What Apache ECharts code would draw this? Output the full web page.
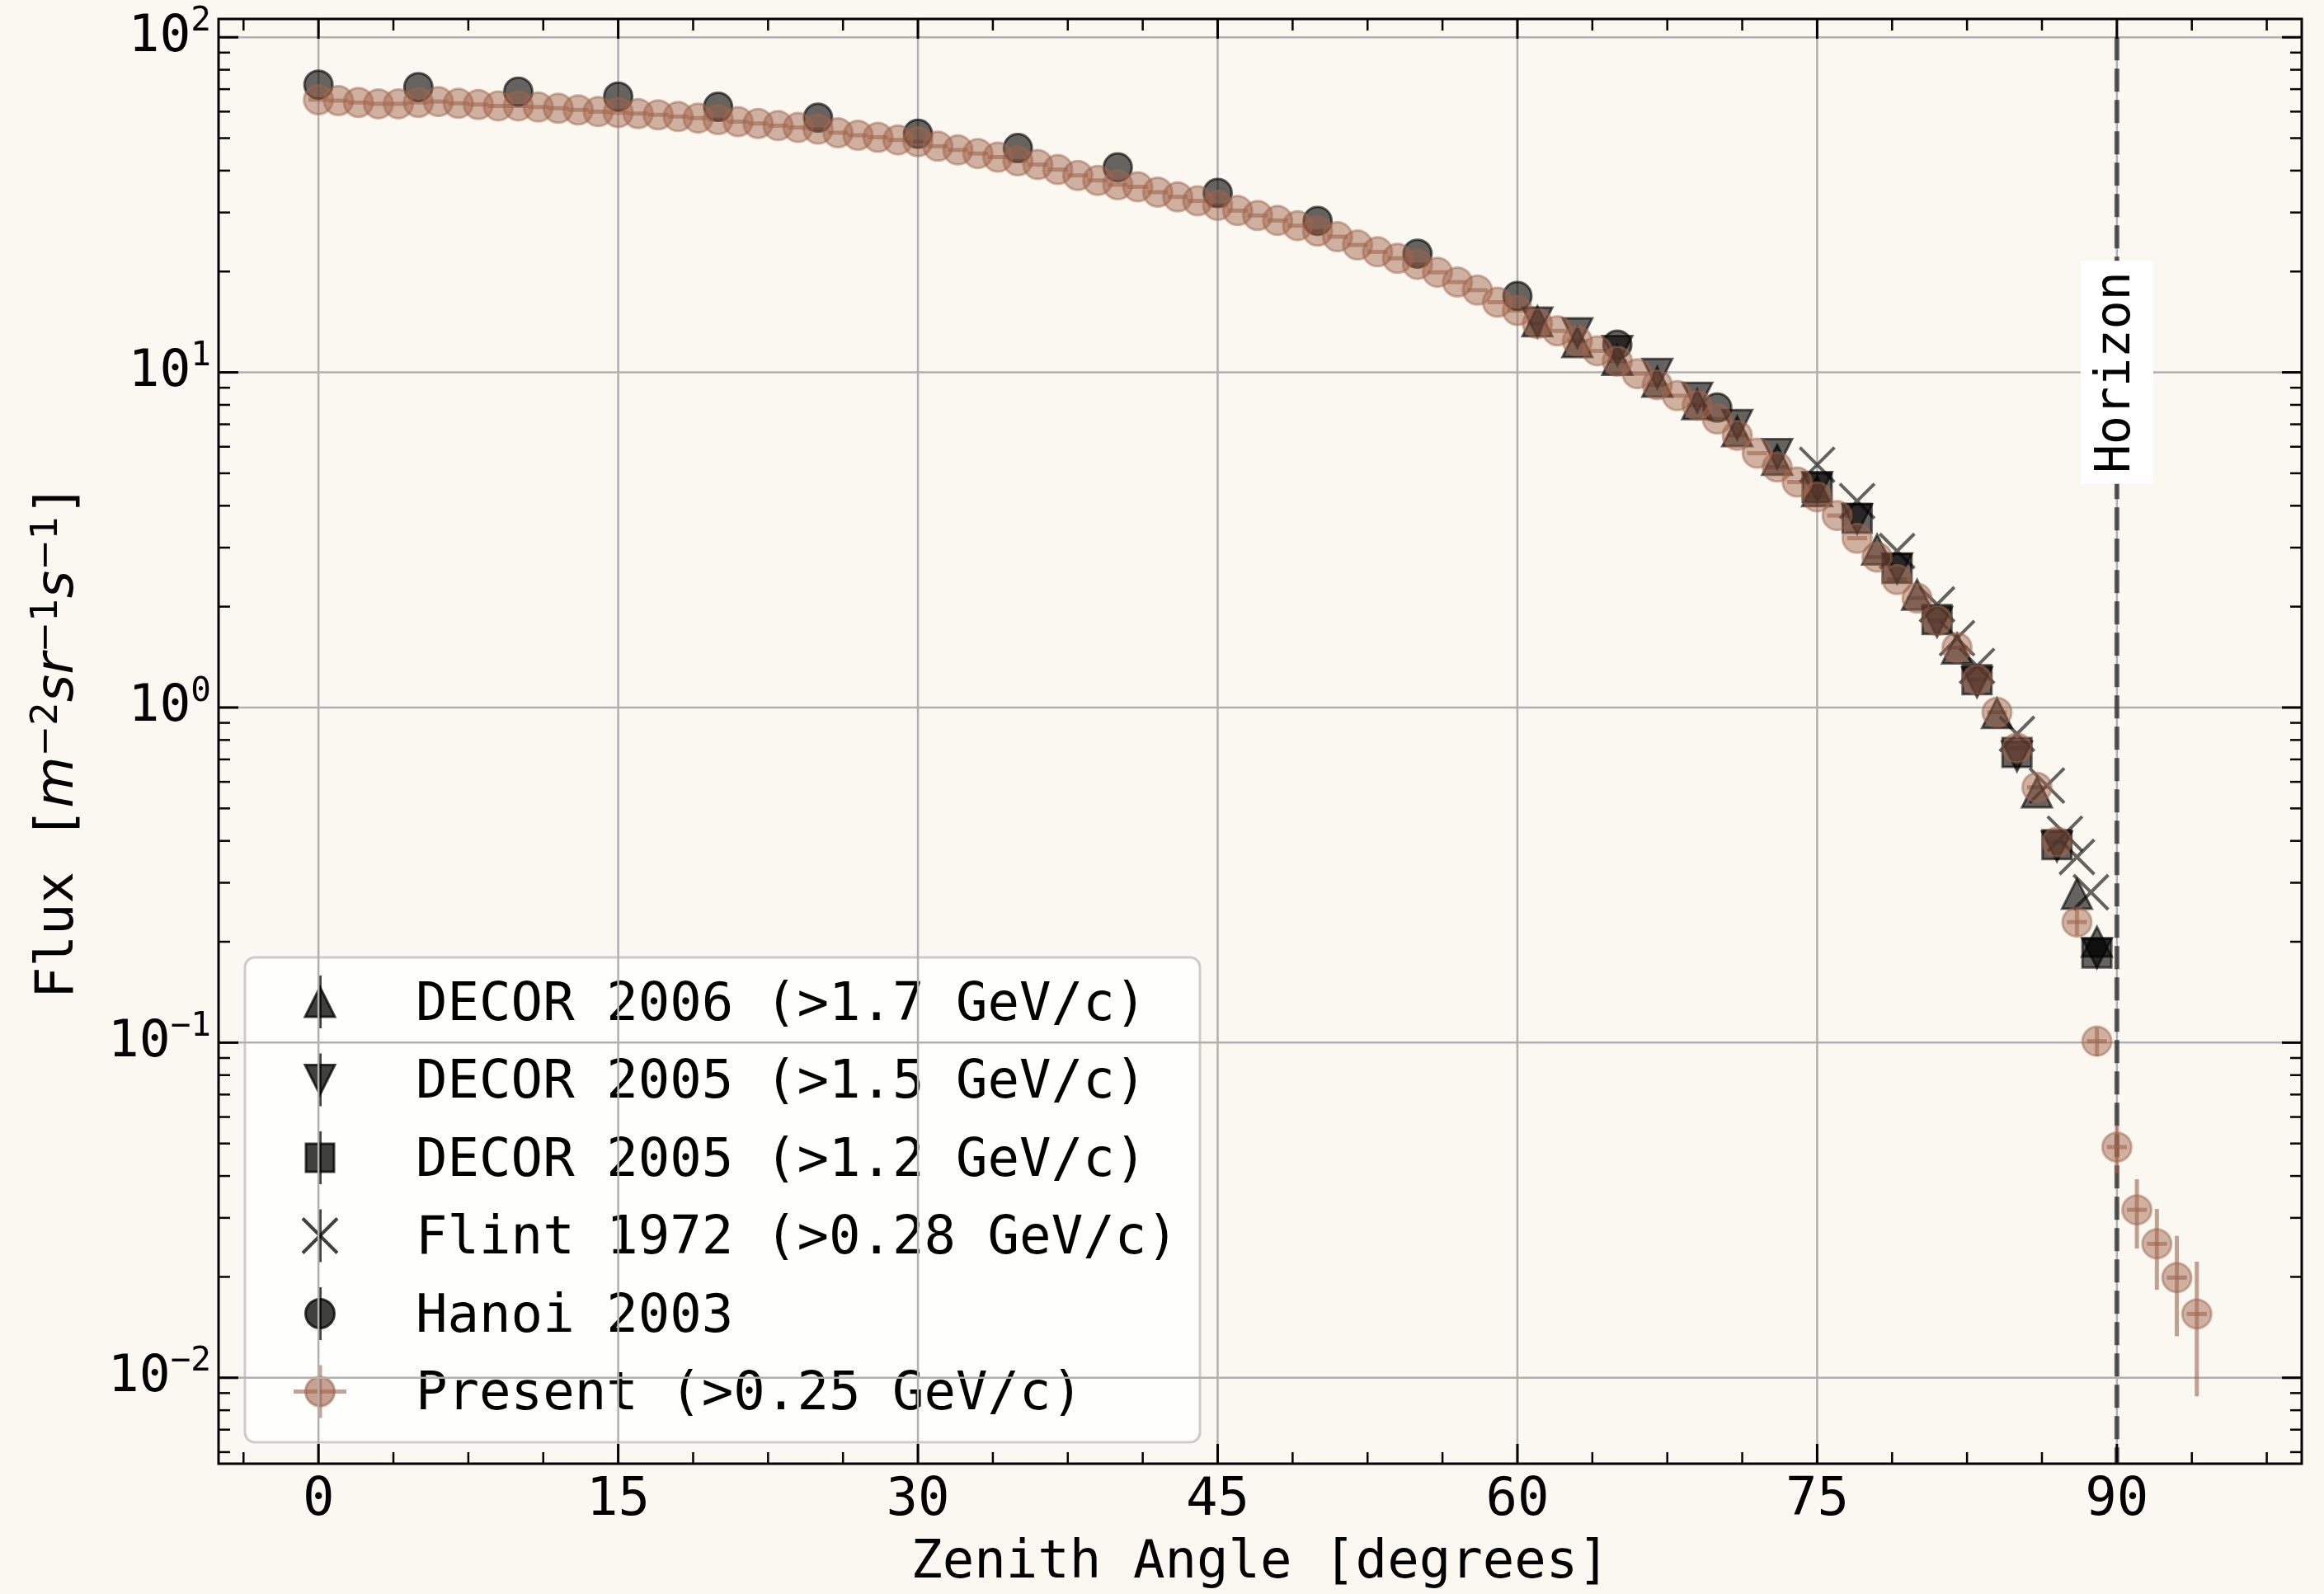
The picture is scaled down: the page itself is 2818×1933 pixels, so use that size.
<!DOCTYPE html>
<html>
<head>
<meta charset="utf-8">
<script src="https://cdn.jsdelivr.net/npm/echarts@6/dist/echarts.min.js"></script>
<style>
html,body{margin:0;padding:0;background:#faf8f1;}
#c{width:2818px;height:1933px;}
</style>
</head>
<body>
<div id="c"></div>
<script>
// ---------------- data ----------------
const presentAngles = [0,1,2,3,4,5,6,7,8,9,10,11,12,13,14,15,16,17,18,19,20,21,22,23,24,25,26,27,28,29,30,31,32,33,34,35,36,37,38,39,40,41,42,43,44,45,46,47,48,49,50,51,52,53,54,55,56,57,58,59,60,61,62,63,64,65,66,67,68,69,70,71,72,73,74,75,76,77,78,79,80,81,82,83,84,85,86,87,88,89,90,91,92,93,94];
const presentFlux = [65.1,64.7,63.9,63.3,63.3,63.9,64.3,63.5,63.0,62.4,
  62.4,61.9,61.4,60.7,60.0,59.6,59.2,58.7,58.0,57.4,
  56.8,56.0,55.3,54.5,53.8,53.2,51.9,51.0,50.3,49.4,
  48.8,47.3,46.1,45.0,43.9,42.8,41.7,40.3,38.7,37.4,
  36.3,35.8,34.5,33.4,32.5,31.5,30.4,29.4,28.4,27.4,
  26.4,25.4,24.0,22.9,21.9,21.0,19.9,18.6,17.6,16.2,
  15.3,14.0,13.3,12.4,11.6,10.8,9.91,9.19,8.52,7.98,
  7.26,6.49,5.74,5.22,4.71,4.25,3.74,3.20,2.81,2.41,
  2.12,1.82,1.51,1.21,0.968,0.757,0.578,0.397,0.229,0.101,
  0.0488,0.0317,0.0251,0.0199,0.0155];
const presentErrAngles = [88,89,90,91,92,93,94];
const presentErrValues = [0.02,0.01,0.008,0.0074,0.0068,0.0066,0.0067];
const presentAngleErr = 0.5;

const hanoiAngles = [0,5,10,15,20,25,30,35,40,45,50,55,60,65,70];
const hanoiFlux = [72.2,71.0,68.8,66.5,62.0,57.5,51.5,46.7,40.9,34.3,28.3,22.6,16.9,12.1,7.85];

const decor2006Angles = [61,63,65,67,69,71,73,75,78,80,82,84,86,88,89];
const decor2006Flux = [14.2,12.3,10.9,9.37,8.03,6.67,5.48,4.42,2.96,2.17,1.50,0.962,0.558,0.278,0.20];

const decor2005aAngles = [61,63,65,67,69,71,73,75,77,79,81,83,85,87,89];
const decor2005aFlux = [14.1,13.1,11.6,9.91,8.41,6.97,5.71,4.55,3.65,2.60,1.80,1.19,0.715,0.385,0.185];

const decor2005bAngles = [75,77,79,81,83,85,87,89];
const decor2005bFlux = [4.53,3.67,2.60,1.83,1.21,0.734,0.39,0.185];

const flintAngles = [75,77,79,81,82,83,85,86.5,87.4,88,88.7];
const flintFlux = [5.3,4.13,2.93,2.03,1.61,1.33,0.834,0.585,0.42,0.358,0.281];

const seriesNames = ['DECOR 2006 (>1.7 GeV/c)','DECOR 2005 (>1.5 GeV/c)','DECOR 2005 (>1.2 GeV/c)','Flint 1972 (>0.28 GeV/c)','Hanoi 2003','Present (>0.25 GeV/c)'];

const xRange = [-5.0, 99.25];
const yRange = [0.00554, 113.4];
const xMajorTicks = [0,15,30,45,60,75,90];
const xMinorTicks = [-3.75,3.75,7.5,11.25,18.75,22.5,26.25,33.75,37.5,41.25,48.75,52.5,56.25,63.75,67.5,71.25,78.75,82.5,86.25,93.75,97.5];
const yMajorTicks = [0.01,0.1,1,10,100];
const yMinorTicks = [0.006,0.007,0.008,0.009,0.02,0.03,0.04,0.05,0.06,0.07,0.08,0.09,0.2,0.3,0.4,0.5,0.6,0.7,0.8,0.9,2,3,4,5,6,7,8,9,20,30,40,50,60,70,80,90];

const horizonAngle = 90;
const horizonTopFlux = 100;
const horizonLabelFlux = 10;
const horizonText = 'Horizon';

// ---------------- style ----------------
const FONT = 'DejaVu Sans Mono';
const BG = '#faf8f1';
const BLACK = 'rgba(0,0,0,0.75)';
const BROWN = 'rgba(160,100,75,0.6)';
const GRIDC = '#b0b0b0';

const chart = echarts.init(document.getElementById('c'), null, {renderer:'canvas'});

function pairs(xs, ys){ return xs.map((x,i)=>[x, ys[i]]); }

const errMap = {};
presentErrAngles.forEach((a,i)=>{ errMap[a] = presentErrValues[i]; });
const presentErrData = presentAngles.map((a,i)=>[a, presentFlux[i], errMap[a] || 0]);

const gridData = xMajorTicks.map(v=>[v,1,0]).concat(yMajorTicks.map(v=>[0,v,1]));
const tickData = xMajorTicks.map(v=>[v,1,0])
  .concat(xMinorTicks.map(v=>[v,1,1]))
  .concat(yMajorTicks.map(v=>[0,v,2]))
  .concat(yMinorTicks.map(v=>[0,v,3]));

function yLabel(v){
  const e = Math.log10(v);
  const r = Math.round(e);
  if (Math.abs(e - r) > 1e-6) return '';
  const s = r < 0 ? '\u2212' + (-r) : String(r);
  return '{b|10}{s|' + s + '}';
}

const blackStyle = {color: BLACK, borderColor: BLACK, borderWidth: 3};

// legend via graphic
function legendElements(){
  const els = [];
  const L = 297, T = 1161, W = 1158, H = 588;
  els.push({type:'rect', shape:{x:L, y:T, width:W, height:H, r:12}, style:{fill:'rgba(255,255,255,0.8)', stroke:'#cccccc', lineWidth:3}});
  const kinds = ['up','down','square','x','circle','present'];
  const cx = 388;
  kinds.forEach((k,i)=>{
    const cy = 1215 + i*94.5;
    const col = k === 'present' ? BROWN : BLACK;
    if (k === 'present') {
      els.push({type:'line', shape:{x1:cx-32,y1:cy,x2:cx+32,y2:cy}, style:{stroke:BROWN, lineWidth:5}});
    }
    els.push({type:'line', shape:{x1:cx,y1:cy-32,x2:cx,y2:cy+32}, style:{stroke:col, lineWidth: k==='present'?5:4}});
    const fs = {fill: col, stroke: col, lineWidth: 3};
    if (k === 'up') els.push({type:'polygon', shape:{points:[[cx,cy-18],[cx-18,cy+18],[cx+18,cy+18]]}, style:fs});
    if (k === 'down') els.push({type:'polygon', shape:{points:[[cx-18,cy-18],[cx+18,cy-18],[cx,cy+18]]}, style:fs});
    if (k === 'square') els.push({type:'rect', shape:{x:cx-17,y:cy-17,width:34,height:34}, style:fs});
    if (k === 'x') {
      els.push({type:'line', shape:{x1:cx-21,y1:cy-21,x2:cx+21,y2:cy+21}, style:{stroke:BLACK, lineWidth:4}});
      els.push({type:'line', shape:{x1:cx+21,y1:cy-21,x2:cx-21,y2:cy+21}, style:{stroke:BLACK, lineWidth:4}});
    }
    if (k === 'circle' || k === 'present') els.push({type:'circle', shape:{cx:cx, cy:cy, r:17.5}, style:fs});
    els.push({type:'text', x:504, y:cy + 5, style:{text: seriesNames[i], fill:'#000', fontSize:64, fontFamily:FONT, align:'left', verticalAlign:'middle'}});
  });
  return els;
}

const option = {
  backgroundColor: BG,
  animation: false,
  grid: {left:265, top:23, width:2526, height:1758, show:true, borderColor:'#000', borderWidth:3, backgroundColor:BG, containLabel:false},
  xAxis: {
    type:'value', min:xRange[0], max:xRange[1],
    name:'Zenith Angle [degrees]', nameLocation:'middle', nameGap:89,
    nameTextStyle:{fontSize:64, fontFamily:FONT, color:'#000'},
    axisLine:{show:false}, axisTick:{show:false, customValues:xMajorTicks},
    splitLine:{show:false},
    axisLabel:{customValues:xMajorTicks, fontSize:64, fontFamily:FONT, color:'#000', margin:13}
  },
  yAxis: {
    type:'log', logBase:10, min:yRange[0], max:yRange[1],
    name:'{t|Flux [}{i|m}{s|\u22122}{i|sr}{s|\u22121}{i|s}{s|\u22121}{t|]}',
    nameLocation:'middle', nameRotate:90, nameGap:158,
    nameTextStyle:{color:'#000', rich:{
      t:{fontFamily:FONT, fontSize:64, color:'#000', verticalAlign:'middle'},
      i:{fontFamily:'DejaVu Sans', fontStyle:'italic', fontSize:64, color:'#000', verticalAlign:'middle'},
      s:{fontFamily:'DejaVu Sans', fontSize:45, color:'#000', verticalAlign:'middle', padding:[0,0,27,0]}
    }},
    axisLine:{show:false}, axisTick:{show:false}, splitLine:{show:false}, minorTick:{show:false},
    axisLabel:{formatter:yLabel, margin:9, rich:{
      b:{fontFamily:FONT, fontSize:63, color:'#000', verticalAlign:'middle'},
      s:{fontFamily:FONT, fontSize:41, color:'#000', verticalAlign:'middle', padding:[0,0,38,0]}
    }}
  },
  graphic: {elements:[{type:'group', z:100, children: legendElements()}]},
  series: [
    { type:'custom', name:'grid', silent:true, z:1, data:gridData,
      renderItem:function(params, api){
        const cs = params.coordSys;
        if (api.value(2) === 0) {
          const x = api.coord([api.value(0), 1])[0];
          return {type:'line', shape:{x1:x,y1:cs.y,x2:x,y2:cs.y+cs.height}, style:{stroke:GRIDC, lineWidth:2.5}};
        }
        const y = api.coord([0, api.value(1)])[1];
        return {type:'line', shape:{x1:cs.x,y1:y,x2:cs.x+cs.width,y2:y}, style:{stroke:GRIDC, lineWidth:2.5}};
      }
    },
    { type:'scatter', name:seriesNames[0], silent:true, data:pairs(decor2006Angles, decor2006Flux),
      symbol:'triangle', symbolSize:36, itemStyle:blackStyle },
    { type:'scatter', name:seriesNames[1], silent:true, data:pairs(decor2005aAngles, decor2005aFlux),
      symbol:'path://M0,0L2,0L1,2Z', symbolSize:36, itemStyle:blackStyle },
    { type:'scatter', name:seriesNames[2], silent:true, data:pairs(decor2005bAngles, decor2005bFlux),
      symbol:'rect', symbolSize:35, itemStyle:blackStyle },
    { type:'scatter', name:seriesNames[3], silent:true, data:pairs(flintAngles, flintFlux),
      symbol:'path://M0,0L2,2M2,0L0,2', symbolSize:42, itemStyle:{color:'rgba(0,0,0,0)', borderColor:BLACK, borderWidth:4} },
    { type:'scatter', name:seriesNames[4], silent:true, data:pairs(hanoiAngles, hanoiFlux),
      symbol:'circle', symbolSize:34, itemStyle:blackStyle },
    { type:'custom', name:'horizon', silent:true, data:[[horizonAngle, horizonTopFlux, horizonLabelFlux]],
      renderItem:function(params, api){
        const cs = params.coordSys;
        const top = api.coord([api.value(0), api.value(1)]);
        const lp = api.coord([api.value(0), api.value(2)]);
        return {type:'group', children:[
          {type:'line', shape:{x1:top[0], y1:top[1], x2:top[0], y2:cs.y+cs.height}, style:{stroke:'rgba(0,0,0,0.6)', lineWidth:6, lineDash:[28,10]}},
          {type:'text', x:lp[0], y:lp[1], rotation:Math.PI/2, style:{text:horizonText, fill:'#000', fontSize:58, fontFamily:FONT, align:'center', verticalAlign:'middle', backgroundColor:'#ffffff', padding:[15,13]}}
        ]};
      }
    },
    { type:'custom', name:'present-err', silent:true, data:presentErrData,
      renderItem:function(params, api){
        const a = api.value(0), f = api.value(1), e = api.value(2);
        const p1 = api.coord([a - presentAngleErr, f]);
        const p2 = api.coord([a + presentAngleErr, f]);
        const ch = [{type:'line', shape:{x1:p1[0],y1:p1[1],x2:p2[0],y2:p2[1]}, style:{stroke:BROWN, lineWidth:5}}];
        if (e > 0) {
          const q1 = api.coord([a, f - e]);
          const q2 = api.coord([a, f + e]);
          ch.push({type:'line', shape:{x1:q1[0],y1:q1[1],x2:q2[0],y2:q2[1]}, style:{stroke:BROWN, lineWidth:5}});
        }
        return {type:'group', children:ch};
      }
    },
    { type:'scatter', name:seriesNames[5], silent:true, data:pairs(presentAngles, presentFlux),
      symbol:'circle', symbolSize:35, itemStyle:{color:BROWN, borderColor:BROWN, borderWidth:3} },
    { type:'custom', name:'ticks', silent:true, z:10, data:tickData,
      renderItem:function(params, api){
        const cs = params.coordSys;
        const kind = api.value(2);
        const major = (kind === 0 || kind === 2);
        const len = major ? 24 : 14;
        const st = {stroke:'#000', lineWidth: major ? 3 : 2.5};
        if (kind < 2) {
          const x = api.coord([api.value(0), 1])[0];
          return {type:'group', children:[
            {type:'line', shape:{x1:x,y1:cs.y+cs.height,x2:x,y2:cs.y+cs.height-len}, style:st},
            {type:'line', shape:{x1:x,y1:cs.y,x2:x,y2:cs.y+len}, style:st}
          ]};
        }
        const y = api.coord([0, api.value(1)])[1];
        return {type:'group', children:[
          {type:'line', shape:{x1:cs.x,y1:y,x2:cs.x+len,y2:y}, style:st},
          {type:'line', shape:{x1:cs.x+cs.width,y1:y,x2:cs.x+cs.width-len,y2:y}, style:st}
        ]};
      }
    }
  ]
};
chart.setOption(option);
</script>
</body>
</html>
